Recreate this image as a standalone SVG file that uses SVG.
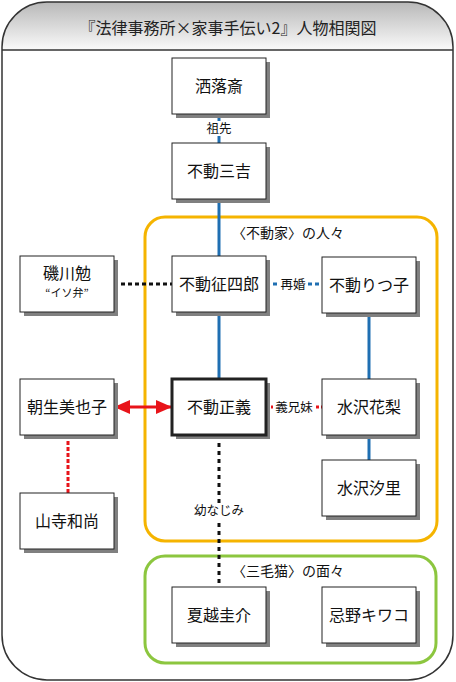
<svg xmlns="http://www.w3.org/2000/svg" width="456" height="682" viewBox="0 0 456 682">
<defs>
<linearGradient id="hdr" x1="0" y1="0" x2="0" y2="1">
<stop offset="0" stop-color="#b8b8b8"/>
<stop offset="1" stop-color="#fafafa"/>
</linearGradient>
<marker id="ar" viewBox="0 0 16 14" refX="15" refY="7" markerWidth="16" markerHeight="14" markerUnits="userSpaceOnUse" orient="auto-start-reverse">
<path d="M0,0 L16,7 L0,14 Z" fill="#e8141a"/>
</marker>
</defs>
<style>
text{font-family:"Noto Sans CJK JP","Noto Sans CJK SC",sans-serif;fill:#111;text-anchor:middle}
.box{fill:#fff;stroke:#222;stroke-width:1}
.sh{fill:#808080}
.nm{font-size:16px}
.lb{font-size:12.5px}
.bl{stroke:#1f6fb2;stroke-width:3;fill:none}
.bk{stroke:#111;stroke-width:3;fill:none}
.rd{stroke:#e8141a;stroke-width:3;fill:none}
</style>
<g id="frame">
<path d="M2,47 A45,45 0 0 1 47,2 L408,2 A45,45 0 0 1 453,47 L453,635 A45,45 0 0 1 408,680 L47,680 A45,45 0 0 1 2,635 Z" fill="#fff"/>
<path d="M2,47 A45,45 0 0 1 47,2 L408,2 A45,45 0 0 1 453,47 L453,50 L2,50 Z" fill="url(#hdr)"/>
<path d="M2,47 A45,45 0 0 1 47,2 L408,2 A45,45 0 0 1 453,47 L453,635 A45,45 0 0 1 408,680 L47,680 A45,45 0 0 1 2,635 Z" fill="none" stroke="#333" stroke-width="1.5"/>
<line x1="2" y1="50" x2="453" y2="50" stroke="#333" stroke-width="1.5"/>
<text x="228" y="34" style="font-size:16px;fill:#222">『法律事務所×家事手伝い2』人物相関図</text>
</g>
<g id="group-fudou">
<rect x="145" y="217" width="292" height="324" rx="20" fill="none" stroke="#f5b400" stroke-width="3"/>
<text x="288" y="238" style="font-size:14px">〈不動家〉の人々</text>
</g>
<g id="group-mikeneko">
<rect x="145" y="556" width="291" height="107" rx="20" fill="none" stroke="#8cc63f" stroke-width="3"/>
<text x="288" y="576" style="font-size:14px">〈三毛猫〉の面々</text>
</g>
<g id="connectors">
<line class="bl" x1="219" y1="114" x2="219" y2="143"/>
<rect x="203" y="121" width="32" height="15" fill="#fff"/>
<text class="lb" x="219" y="133">祖先</text>
<line class="bl" x1="219" y1="199" x2="219" y2="256"/>
<line class="bk" x1="114" y1="284" x2="172" y2="284" stroke-dasharray="4 3"/>
<line class="bl" x1="266" y1="284" x2="322" y2="284" stroke-dasharray="4 3"/>
<rect x="278" y="276" width="30" height="16" fill="#fff"/>
<text class="lb" x="293" y="288.5">再婚</text>
<line class="bl" x1="219" y1="311" x2="219" y2="379"/>
<line class="bl" x1="369" y1="313" x2="369" y2="379"/>
<line class="bl" x1="369" y1="435" x2="369" y2="460"/>
<line class="rd" x1="115" y1="407" x2="171" y2="407" marker-start="url(#ar)" marker-end="url(#ar)"/>
<line class="rd" x1="266" y1="407" x2="322" y2="407" stroke-dasharray="3 2" stroke-width="2"/>
<rect x="273" y="399" width="42" height="16" fill="#fff"/>
<text class="lb" x="294" y="411.5">義兄妹</text>
<line class="rd" x1="68" y1="435" x2="68" y2="493" stroke-dasharray="4 2"/>
<line class="bk" x1="219" y1="435" x2="219" y2="587" stroke-dasharray="4 4"/>
<rect x="190" y="503" width="58" height="16" fill="#fff"/>
<text class="lb" x="219" y="515">幼なじみ</text>
</g>
<g id="n-sharakusai"><rect class="sh" x="176" y="62" width="94" height="56"/><rect class="box" x="172" y="58" width="94" height="56"/><text class="nm" x="219" y="92">洒落斎</text></g>
<g id="n-sankichi"><rect class="sh" x="176" y="147" width="94" height="56"/><rect class="box" x="172" y="143" width="94" height="56"/><text class="nm" x="219" y="177">不動三吉</text></g>
<g id="n-isokawa"><rect class="sh" x="24" y="260" width="94" height="56"/><rect class="box" x="20" y="256" width="94" height="56"/><text class="nm" x="67" y="279">磯川勉</text><text x="67" y="297" style="font-size:11px">“イソ弁”</text></g>
<g id="n-seishirou"><rect class="sh" x="176" y="260" width="94" height="56"/><rect class="box" x="172" y="256" width="94" height="56"/><text class="nm" x="219" y="290">不動征四郎</text></g>
<g id="n-ritsuko"><rect class="sh" x="326" y="261" width="94" height="56"/><rect class="box" x="322" y="257" width="94" height="56"/><text class="nm" x="369" y="291">不動りつ子</text></g>
<g id="n-asou"><rect class="sh" x="24" y="383" width="94" height="56"/><rect class="box" x="20" y="379" width="94" height="56"/><text class="nm" x="67" y="413">朝生美也子</text></g>
<g id="n-masayoshi"><rect class="sh" x="176" y="383" width="94" height="56"/><rect class="box" x="172" y="379" width="94" height="56" style="stroke-width:3"/><text class="nm" x="219" y="413">不動正義</text></g>
<g id="n-karin"><rect class="sh" x="326" y="383" width="94" height="56"/><rect class="box" x="322" y="379" width="94" height="56"/><text class="nm" x="369" y="413">水沢花梨</text></g>
<g id="n-shiori"><rect class="sh" x="326" y="464" width="94" height="56"/><rect class="box" x="322" y="460" width="94" height="56"/><text class="nm" x="369" y="494">水沢汐里</text></g>
<g id="n-yamadera"><rect class="sh" x="24" y="497" width="94" height="56"/><rect class="box" x="20" y="493" width="94" height="56"/><text class="nm" x="67" y="527">山寺和尚</text></g>
<g id="n-natsukoshi"><rect class="sh" x="176" y="591" width="94" height="56"/><rect class="box" x="172" y="587" width="94" height="56"/><text class="nm" x="219" y="621">夏越圭介</text></g>
<g id="n-imano"><rect class="sh" x="326" y="591" width="94" height="56"/><rect class="box" x="322" y="587" width="94" height="56"/><text class="nm" x="369" y="621">忌野キワコ</text></g>
</svg>
